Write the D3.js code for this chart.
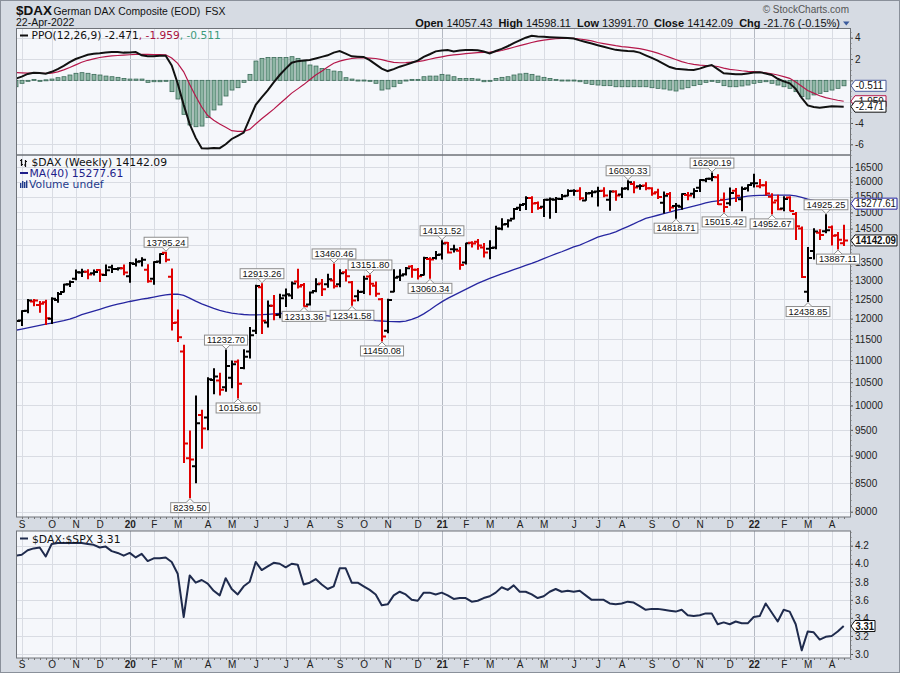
<!DOCTYPE html>
<html><head><meta charset="utf-8">
<script src="https://cdn.jsdelivr.net/npm/d3@7"></script>
<style>
html,body{margin:0;padding:0;background:#d6dbe3;}
svg{display:block;}
</style></head><body>
<svg id="c" width="900" height="673"></svg>
<script>
// Weekly bars: [week (Monday), open, high, low, close]
const weeks = [
["2019-08-26",11700,11950,11650,11939],["2019-09-02",11950,12200,11830,12191],["2019-09-09",12200,12490,12150,12469],
["2019-09-16",12440,12495,12330,12468],["2019-09-23",12350,12440,12160,12381],["2019-09-30",12420,12470,11850,12012],
["2019-10-07",12000,12540,11880,12511],["2019-10-14",12480,12680,12420,12634],["2019-10-21",12690,12900,12690,12894],
["2019-10-28",12900,12990,12840,12961],["2019-11-04",13050,13290,13020,13228],["2019-11-11",13220,13310,13110,13242],
["2019-11-18",13240,13300,13050,13164],["2019-11-25",13200,13290,13150,13236],["2019-12-02",13290,13300,12970,13166],
["2019-12-09",13150,13430,13140,13283],["2019-12-16",13370,13425,13220,13319],["2019-12-23",13320,13350,13290,13337],
["2019-12-30",13340,13430,13160,13219],["2020-01-06",13120,13500,12950,13483],["2020-01-13",13460,13600,13400,13526],
["2020-01-20",13540,13640,13400,13577],["2020-01-27",13300,13440,12950,12982],["2020-02-03",13050,13520,12900,13514],
["2020-02-10",13530,13750,13480,13745],["2020-02-17",13780,13795.24,13520,13579],["2020-02-24",13100,13320,11720,11890],
["2020-03-02",11900,12220,11440,11542],["2020-03-09",11200,11350,8870,9232],["2020-03-16",8950,9480,8239.5,8929],
["2020-03-23",8800,10200,8500,9633],["2020-03-30",9800,9900,9140,9526],["2020-04-06",9750,10600,9500,10565],
["2020-04-13",10550,10800,10250,10626],["2020-04-20",10540,10700,10220,10336],["2020-04-27",10390,11232.7,10300,10862],
["2020-05-04",10600,10980,10380,10904],["2020-05-11",10960,11000,10158.6,10465],["2020-05-18",10820,11240,10800,11074],
["2020-05-25",11200,11780,11050,11587],["2020-06-01",11700,12870,11630,12848],["2020-06-08",12820,12913.26,11630,11949],
["2020-06-15",11900,12450,11790,12331],["2020-06-22",12330,12600,11970,12089],["2020-06-29",12100,12630,12020,12528],
["2020-07-06",12600,12770,12310,12633],["2020-07-13",12600,12960,12520,12920],["2020-07-20",12970,13310,12800,12838],
["2020-07-27",12880,12920,12313.36,12313.36],["2020-08-03",12360,12690,12350,12675],["2020-08-10",12720,13050,12700,12901],
["2020-08-17",12920,13030,12600,12765],["2020-08-24",12900,13170,12820,13033],["2020-08-31",13000,13460.46,12800,12842],
["2020-09-07",12900,13300,12830,13203],["2020-09-14",13230,13300,12990,13116],["2020-09-21",12950,12970,12341.58,12469],
["2020-09-28",12580,12740,12460,12689],["2020-10-05",12700,13120,12650,13051],["2020-10-12",13110,13151.8,12620,12909],
["2020-10-19",12860,12960,12580,12646],["2020-10-26",12500,12520,11450.08,11556],["2020-11-02",11700,12500,11650,12480],
["2020-11-09",12700,13300,12700,13077],["2020-11-16",13100,13300,13000,13137],["2020-11-23",13170,13360,13150,13336],
["2020-11-30",13390,13420,13090,13299],["2020-12-07",13300,13330,13040,13114],["2020-12-14",13150,13650,13150,13631],
["2020-12-21",13600,13640,13060.34,13587],["2020-12-28",13630,13820,13600,13719],["2021-01-04",13730,14131.52,13600,14050],
["2021-01-11",14070,14080,13770,13787],["2021-01-18",13880,14000,13800,13874],["2021-01-25",13840,13930,13310,13433],
["2021-02-01",13500,14060,13460,14057],["2021-02-08",14070,14100,13950,14050],["2021-02-15",14100,14170,13880,13993],
["2021-02-22",13930,14050,13660,13786],["2021-03-01",13900,14130,13610,13921],["2021-03-08",13930,14570,13900,14502],
["2021-03-15",14490,14800,14460,14621],["2021-03-22",14640,14770,14550,14749],["2021-03-29",14800,15120,14790,15107],
["2021-04-05",15150,15260,15060,15234],["2021-04-12",15270,15500,15090,15460],["2021-04-19",15460,15500,15000,15280],
["2021-04-26",15300,15330,15100,15136],["2021-05-03",15180,15410,14870,15400],["2021-05-10",15400,15460,14820,15417],
["2021-05-17",15400,15480,15000,15438],["2021-05-24",15430,15570,15410,15520],["2021-05-31",15530,15730,15530,15693],
["2021-06-07",15700,15730,15550,15693],["2021-06-14",15700,15800,15400,15448],["2021-06-21",15380,15640,15390,15608],
["2021-06-28",15620,15700,15500,15650],["2021-07-05",15670,15810,15200,15688],["2021-07-12",15700,15800,15500,15540],
["2021-07-19",15400,15700,15070,15669],["2021-07-26",15670,15700,15390,15544],["2021-08-02",15570,15800,15480,15761],
["2021-08-09",15780,16030.33,15730,15977],["2021-08-16",15920,16000,15630,15808],["2021-08-23",15850,15900,15750,15852],
["2021-08-30",15870,15960,15730,15781],["2021-09-06",15780,15800,15550,15609],["2021-09-13",15650,15750,15440,15490],
["2021-09-20",15310,15660,14980,15532],["2021-09-27",15590,15640,15040,15156],["2021-10-04",15200,15280,14818.71,15207],
["2021-10-11",15180,15600,15100,15587],["2021-10-18",15560,15640,15400,15543],["2021-10-25",15600,15760,15470,15688],
["2021-11-01",15800,16060,15670,16054],["2021-11-08",16050,16110,16000,16094],["2021-11-15",16100,16290.19,16030,16160],
["2021-11-22",16150,16230,15250,15257],["2021-11-29",15400,15620,15015.42,15170],["2021-12-06",15290,15790,15230,15623],
["2021-12-13",15700,15770,15350,15532],["2021-12-20",15420,15820,15050,15756],["2021-12-27",15780,15900,15690,15885],
["2022-01-03",15950,16250,15820,15948],["2022-01-10",15850,16070,15800,15883],["2022-01-17",15880,16000,15560,15604],
["2022-01-24",15500,15600,14952.67,15318],["2022-01-31",15380,15550,15080,15100],["2022-02-07",15120,15500,15050,15425],
["2022-02-14",15480,15500,15050,15042],["2022-02-21",14950,15000,14170,14567],["2022-02-28",14500,14550,13080,13094],
["2022-03-07",12700,13930,12438.85,13628],["2022-03-14",13830,14490,13600,14413],["2022-03-21",14370,14460,14170,14306],
["2022-03-28",14420,14925.25,14370,14446],["2022-04-04",14540,14580,14010,14284],["2022-04-11",14300,14380,13887.11,14163.85],
["2022-04-18",14057.43,14598.11,13991.70,14142.09]
];
// 40-week moving average
const ma40 = [11710,11740,11770,11800,11830,11860,11890,11920,11950,11990,12040,12100,12146,12192,12238,12284,12330,12370,12405,12440,
12470,12500,12525,12555,12585,12615,12630,12632,12600,12530,12450,12380,12320,12260,12210,12170,12140,12120,12105,12095,
12095,12100,12110,12120,12130,12135,12135,12135,12130,12120,12110,12090,12070,12050,12030,12015,12000,11990,11980,11965,
11950,11940,11930,11925,11922,11935,11980,12040,12120,12220,12330,12430,12520,12600,12680,12760,12840,12920,12990,13060,
13120,13180,13240,13300,13360,13420,13475,13540,13610,13680,13750,13810,13880,13950,14005,14080,14160,14240,14290,14335,
14400,14480,14560,14640,14730,14810,14860,14910,14960,15010,15060,15100,15150,15200,15250,15300,15340,15370,15400,15430,
15460,15490,15520,15535,15545,15550,15555,15556,15556,15556,15530,15480,15420,15380,15340,15300,15270,15272,15277.61];
// PPO(12,26,9)
const ppoLine = [0.15,0.35,0.6,0.7,0.68,0.62,0.8,1.05,1.35,1.7,2.0,2.2,2.4,2.5,2.55,2.62,2.65,2.65,2.6,2.62,
2.65,2.35,2.25,2.25,2.3,2.3,1.4,-0.3,-2.3,-4.1,-5.4,-6.38,-6.4,-6.35,-6.36,-6.0,-5.5,-5.2,-4.9,-3.6,
-2.3,-1.6,-0.95,-0.2,0.5,1.1,1.65,1.8,1.85,1.9,2.05,2.2,2.35,2.6,2.75,2.5,2.25,2.22,2.2,1.9,
1.5,1.1,0.87,1.05,1.28,1.45,1.65,1.85,2.2,2.45,2.72,2.8,2.84,2.7,2.8,2.84,2.84,2.82,2.7,2.53,
2.75,2.95,3.2,3.5,3.75,4.0,4.18,4.12,4.08,4.05,4.02,4.0,3.97,3.92,3.75,3.6,3.45,3.3,3.15,3.0,
2.86,2.8,2.75,2.72,2.6,2.35,2.1,1.85,1.55,1.25,1.08,1.05,1.0,0.98,1.1,1.3,1.44,1.05,0.66,0.62,
0.58,0.57,0.65,0.73,0.75,0.65,0.5,0.15,-0.1,-0.28,-0.8,-1.65,-2.35,-2.5,-2.57,-2.5,-2.42,-2.45,-2.471];
const ppoSignal = [0.72,0.7,0.68,0.67,0.66,0.66,0.68,0.8,0.98,1.2,1.45,1.7,1.88,2.02,2.14,2.22,2.29,2.33,2.37,2.4,
2.43,2.44,2.43,2.42,2.41,2.4,2.1,1.6,0.8,-0.4,-1.5,-2.5,-3.3,-3.75,-4.1,-4.4,-4.72,-4.78,-4.78,-4.6,
-4.1,-3.6,-3.15,-2.7,-2.2,-1.7,-1.2,-0.8,-0.4,0.05,0.5,0.85,1.25,1.6,1.8,1.95,2.05,2.1,2.1,2.08,
2.05,1.95,1.8,1.68,1.65,1.66,1.7,1.75,1.85,1.98,2.1,2.2,2.31,2.38,2.44,2.5,2.55,2.6,2.63,2.65,
2.7,2.8,2.95,3.1,3.25,3.4,3.55,3.68,3.78,3.85,3.9,3.93,3.94,3.94,3.88,3.8,3.7,3.55,3.45,3.35,
3.25,3.17,3.12,3.05,2.97,2.85,2.72,2.55,2.35,2.15,1.95,1.75,1.6,1.5,1.42,1.39,1.37,1.3,1.15,1.03,
0.97,0.9,0.85,0.82,0.78,0.7,0.62,0.5,0.35,0.19,-0.15,-0.55,-0.95,-1.2,-1.45,-1.62,-1.75,-1.87,-1.959];
const ppoHist = [-0.6,-0.28,-0.06,0.09,0.0,0.05,0.12,0.25,0.34,0.5,0.66,0.72,0.66,0.56,0.5,0.4,0.34,0.28,0.18,0.12,
0.12,0.12,-0.19,-0.13,-0.13,-0.06,-1.06,-1.75,-3.19,-4.19,-4.35,-4.29,-3.5,-2.78,-2.31,-1.47,-0.91,-0.69,-0.19,0.56,
1.81,2.06,2.15,2.15,2.15,2.15,2.22,2.06,1.81,1.44,1.34,1.12,1.03,0.87,0.81,0.25,0.12,0.03,0.03,-0.06,
-0.28,-0.91,-0.81,-0.6,-0.28,0.03,0.09,0.09,0.34,0.4,0.4,0.56,0.5,0.34,0.18,0.18,0.18,0.12,-0.13,-0.06,
0.18,0.28,0.34,0.5,0.6,0.66,0.56,0.4,0.28,0.18,0.09,0.03,0.03,0.03,-0.13,-0.28,-0.38,-0.44,-0.5,-0.5,
-0.6,-0.6,-0.6,-0.6,-0.6,-0.6,-0.69,-0.75,-0.81,-0.91,-1.0,-0.81,-0.69,-0.5,-0.38,-0.19,-0.06,-0.19,-0.5,-0.6,
-0.6,-0.53,-0.44,-0.28,-0.19,-0.13,-0.28,-0.44,-0.6,-0.75,-1.06,-1.53,-1.75,-1.37,-1.22,-1.06,-0.91,-0.75,-0.511];
// $DAX:$SPX ratio
const ratio = [4.09,4.10,4.15,4.17,4.18,4.08,4.22,4.23,4.23,4.23,4.23,4.23,4.22,4.21,4.18,4.19,4.14,4.12,4.09,4.12,
4.07,4.11,4.03,4.06,4.06,4.07,4.02,3.89,3.41,3.87,3.79,3.82,3.78,3.70,3.65,3.84,3.72,3.66,3.75,3.80,
4.02,3.93,3.97,4.01,4.0,3.96,4.0,3.99,3.77,3.79,3.83,3.77,3.72,3.75,3.95,3.95,3.79,3.79,3.75,3.71,
3.66,3.54,3.55,3.65,3.69,3.66,3.60,3.59,3.68,3.68,3.66,3.68,3.65,3.61,3.62,3.62,3.58,3.59,3.62,3.64,
3.68,3.74,3.71,3.76,3.69,3.69,3.66,3.62,3.64,3.69,3.72,3.69,3.70,3.69,3.70,3.65,3.60,3.60,3.60,3.56,
3.55,3.56,3.58,3.57,3.53,3.49,3.50,3.50,3.49,3.48,3.47,3.49,3.43,3.42,3.43,3.45,3.45,3.33,3.35,3.33,
3.36,3.34,3.34,3.41,3.42,3.56,3.46,3.36,3.49,3.47,3.33,3.04,3.25,3.24,3.16,3.19,3.20,3.25,3.31];
// Tick labels
const priceTicks = [8000,8500,9000,9500,10000,10500,11000,11500,12000,12500,13000,13500,14000,14500,15000,15500,16000,16500];
const ppoTicks = [4,2,0,-2,-4,-6];
const ratioTicks = [4.2,4.0,3.8,3.6,3.4,3.2,3.0];
const monthLetters = ["J","F","M","A","M","J","J","A","S","O","N","D"];
// Price callouts: [week, value, H/L]
const callouts = [
["2020-02-17",13795.24,"H"],["2020-03-16",8239.50,"L"],["2020-04-27",11232.70,"H"],["2020-05-11",10158.60,"L"],
["2020-06-08",12913.26,"H"],["2020-07-27",12313.36,"L"],["2020-08-31",13460.46,"H"],["2020-09-21",12341.58,"L"],
["2020-10-12",13151.80,"H"],["2020-10-26",11450.08,"L"],["2020-12-21",13060.34,"L"],["2021-01-04",14131.52,"H"],
["2021-08-09",16030.33,"H"],["2021-10-04",14818.71,"L"],["2021-11-15",16290.19,"H"],["2021-11-29",15015.42,"L"],
["2022-01-24",14952.67,"L"],["2022-03-07",12438.85,"L"],["2022-03-28",14925.25,"H"],["2022-04-11",13887.11,"L"]];

const svg = d3.select("#c");
const W=900,H=673,L=17,R=850;
const P1={t:28.5,b:155}, P2={t:155,b:517}, P3={t:531,b:658};
const parse = d3.utcParse("%Y-%m-%d");
const data = weeks.map((d,i)=>({date:parse(d[0]),o:d[1],h:d[2],l:d[3],c:d[4],ma:ma40[i],ppo:ppoLine[i],sig:ppoSignal[i],hist:ppoHist[i],ratio:ratio[i]}));
const x = d3.scaleUtc().domain([parse("2019-09-02"),parse("2022-04-04")]).range([21.7,831.7]);
const yP = d3.scaleLog().domain([8000,16500]).range([511.7,167]);
const yO = d3.scaleLinear().domain([-6,4]).range([144.3,37.7]);
const yR = d3.scaleLinear().domain([3.0,4.2]).range([654,545.7]);
const SANS = "DejaVu Sans, Verdana, sans-serif";
const ARIAL = "Liberation Sans, Arial, sans-serif";

// positions of the right-hand value boxes (used to keep covered axis labels hidden)
const boxY = {
  ppo:[yO(ppoSignal[ppoSignal.length-1]),yO(ppoLine[ppoLine.length-1]),yO(ppoHist[ppoHist.length-1])],
  price:[yP(ma40[ma40.length-1]),yP(weeks[weeks.length-1][4])],
  ratio:[yR(ratio[ratio.length-1])]
};

// background
svg.append("rect").attr("x",0.5).attr("y",0.5).attr("width",W-1).attr("height",H-1).attr("fill","#d6dbe3").attr("stroke","#8a909a");

const defs = svg.append("defs");
[["c1",P1],["c2",P2],["c3",P3]].forEach(([id,p])=>{
  defs.append("clipPath").attr("id",id).append("rect").attr("x",L).attr("y",p.t).attr("width",R-L).attr("height",p.b-p.t);
});
[P1,P2,P3].forEach(p=>svg.append("rect").attr("x",L).attr("y",p.t).attr("width",R-L).attr("height",p.b-p.t).attr("fill","#f5f7fb"));

// month ticks
const monthStarts = data.filter((d,i)=> i>0 && d.date.getUTCMonth()!==data[i-1].date.getUTCMonth());
function vgrid(p){
  const g = svg.append("g").attr("clip-path",`url(#${p===P1?"c1":p===P2?"c2":"c3"})`);
  g.selectAll("line").data(monthStarts).join("line")
    .attr("x1",d=>Math.round(x(d.date))+0.5).attr("x2",d=>Math.round(x(d.date))+0.5)
    .attr("y1",p.t).attr("y2",p.b)
    .attr("stroke",d=>d.date.getUTCMonth()===0?"#b4b9c2":"#d9dce3").attr("stroke-width",1);
}
function hgrid(p,scale,ticks){
  svg.append("g").selectAll("line").data(ticks).join("line")
    .attr("x1",L).attr("x2",R).attr("y1",d=>Math.round(scale(d))+0.5).attr("y2",d=>Math.round(scale(d))+0.5)
    .attr("stroke","#d9dce3");
}
[P1,P2,P3].forEach(vgrid);
hgrid(P1,yO,ppoTicks); hgrid(P2,yP,priceTicks); hgrid(P3,yR,ratioTicks);

// ---- PPO panel
const gP = svg.append("g").attr("clip-path","url(#c1)");
gP.selectAll("rect.h").data(data).join("rect").attr("class","h")
  .attr("x",d=>Math.round(x(d.date))-2).attr("width",4)
  .attr("y",d=>Math.min(yO(0),yO(d.hist))).attr("height",d=>Math.max(1,Math.abs(yO(d.hist)-yO(0))))
  .attr("fill","#8db6a4").attr("stroke","#3a6a58").attr("stroke-width",0.8);
gP.append("path").datum(data).attr("fill","none").attr("stroke","#b5174a").attr("stroke-width",1.2)
  .attr("d",d3.line().x(d=>x(d.date)).y(d=>yO(d.sig)));
gP.append("path").datum(data).attr("fill","none").attr("stroke","#111").attr("stroke-width",2)
  .attr("d",d3.line().x(d=>x(d.date)).y(d=>yO(d.ppo)));

// ---- Price panel
const gM = svg.append("g").attr("clip-path","url(#c2)");
gM.append("path").datum(data).attr("fill","none").attr("stroke","#2626a0").attr("stroke-width",1.3)
  .attr("d",d3.line().x(d=>x(d.date)).y(d=>yP(d.ma)));
gM.selectAll("path.bar").data(data).join("path").attr("class","bar")
  .attr("d",d=>{const cx=Math.round(x(d.date));return `M${cx},${yP(d.h)-0.5}V${yP(d.l)+0.5}M${cx-4},${yP(d.o)}H${cx}M${cx},${yP(d.c)}H${cx+4}`;})
  .attr("fill","none").attr("stroke-width",2)
  .attr("stroke",(d,i)=> i>0 && d.c<data[i-1].c ? "#e00000" : "#000");

// ---- Ratio panel
const gR = svg.append("g").attr("clip-path","url(#c3)");
gR.append("path").datum(data).attr("fill","none").attr("stroke","#1f2b4d").attr("stroke-width",2)
  .attr("stroke-linejoin","round").attr("d",d3.line().x(d=>x(d.date)).y(d=>yR(d.ratio)));

// ---- panel borders
[P1,P2,P3].forEach(p=>svg.append("rect").attr("x",L-0.5).attr("y",p.t).attr("width",R-L+1).attr("height",p.b-p.t)
  .attr("fill","none").attr("stroke","#6f7379"));

// ---- right axes
function rightAxis(scale,ticks,fmt,minor,covers){
  const g = svg.append("g").attr("transform",`translate(${R},0)`)
    .call(d3.axisRight(scale).tickValues(ticks).tickFormat(fmt).tickSize(3).tickPadding(2));
  g.select(".domain").remove();
  g.selectAll("text").attr("font-family",ARIAL).attr("font-size",10).attr("fill","#222")
    .attr("display",d=>covers.some(y=>Math.abs(scale(d)-y)<6)?"none":null);
  g.selectAll("line").attr("stroke","#555");
  svg.append("g").selectAll("line").data(minor).join("line")
    .attr("x1",R).attr("x2",R+1.5).attr("y1",d=>Math.round(scale(d))+0.5).attr("y2",d=>Math.round(scale(d))+0.5).attr("stroke","#777");
}
rightAxis(yO,ppoTicks,d=>d3.format("d")(d).replace("\u2212","-"),d3.range(-7,4.9,0.5),boxY.ppo);
rightAxis(yP,priceTicks,d3.format("d"),d3.range(8000,16600,100),boxY.price);
rightAxis(yR,ratioTicks,d=>d.toFixed(1),d3.range(2.95,4.36,0.05),[]);

// ---- bottom axes (months)
function monthAxis(y0,pad){
  const g = svg.append("g").attr("transform",`translate(0,${y0})`)
    .call(d3.axisBottom(x).tickValues(monthStarts.map(d=>d.date))
      .tickFormat(d=>d.getUTCMonth()===0 ? d3.utcFormat("%y")(d) : monthLetters[d.getUTCMonth()])
      .tickSize(0).tickPadding(pad));
  g.select(".domain").remove();
  g.selectAll("text").attr("font-family",ARIAL).attr("font-size",10).attr("fill","#222")
    .attr("font-weight",d=>d.getUTCMonth()===0?"bold":"normal");
  svg.append("g").selectAll("line").data(data).join("line")
    .attr("x1",d=>Math.round(x(d.date))+0.5).attr("x2",d=>Math.round(x(d.date))+0.5)
    .attr("y1",y0).attr("y2",y0+2).attr("stroke","#777")
    .attr("display",d=>x(d.date)<L||x(d.date)>R?"none":null);
}
monthAxis(P2.b,4);
monthAxis(P3.b,2.6);

// ---- callouts (drawn over the axis labels, as in the original)
const gC = svg.append("g");
callouts.forEach(([dt,v,t])=>{
  const cx = Math.round(x(parse(dt))), cy = yP(v);
  const txt = gC.append("text").text(v.toFixed(2)).attr("font-family",ARIAL).attr("font-size",9.3).attr("fill","#111").attr("text-anchor","middle");
  const w = txt.node().getComputedTextLength()+5, h=10;
  const bt = t==="H" ? cy-5-h : cy+5;
  gC.insert("rect","text").attr("x",cx-w/2).attr("y",bt).attr("width",w).attr("height",h).attr("fill","#fff").attr("stroke","#8c8c8c");
  const edge = t==="H" ? bt+h : bt;
  const tip = t==="H" ? cy-1 : cy+1;
  gC.insert("path","text").attr("d",`M${cx-4},${edge}L${cx},${tip}L${cx+4},${edge}`).attr("fill","#fff").attr("stroke","#8c8c8c");
  txt.attr("x",cx).attr("y",bt+8.3);
});

// ---- value boxes on right
function valueBox(y,text,color,bold,right){
  const g = svg.append("g");
  g.append("path").attr("d",`M${R+1},${y}L${R+5},${y-5.5}H${R+right}V${y+5.5}H${R+5}Z`).attr("fill","#fff").attr("stroke",color);
  const t = g.append("text").attr("x",R+5.5).attr("y",y+3.6).text(text).attr("font-family",ARIAL).attr("font-size",10)
    .attr("font-weight",bold?"bold":"normal").attr("fill","#111");
  const maxW = right-6.5;
  if (t.node().getComputedTextLength()>maxW) t.attr("textLength",maxW).attr("lengthAdjust","spacingAndGlyphs");
}
valueBox(boxY.ppo[0],ppoSignal[ppoSignal.length-1].toFixed(3),"#b5174a",false,36);
valueBox(boxY.ppo[1],ppoLine[ppoLine.length-1].toFixed(3),"#111",false,36);
valueBox(boxY.ppo[2],ppoHist[ppoHist.length-1].toFixed(3),"#4a5c9c",false,36);
valueBox(boxY.price[0],ma40[ma40.length-1].toFixed(2),"#2626a0",false,47);
valueBox(boxY.price[1],weeks[weeks.length-1][4].toFixed(2),"#111",true,47);
valueBox(boxY.ratio[0],ratio[ratio.length-1].toFixed(2),"#111",true,25);

// ---- legends
// PPO
svg.append("line").attr("x1",20).attr("x2",28).attr("y1",35.5).attr("y2",35.5).attr("stroke","#111").attr("stroke-width",2);
const tp = svg.append("text").attr("x",31.5).attr("y",39).attr("font-family",SANS).attr("font-size",10.6).attr("fill","#111");
tp.append("tspan").text("PPO(12,26,9) "+ppoLine[ppoLine.length-1].toFixed(3));
tp.append("tspan").attr("fill","#a8123f").text(", "+ppoSignal[ppoSignal.length-1].toFixed(3));
tp.append("tspan").attr("fill","#3d9a7c").text(", "+ppoHist[ppoHist.length-1].toFixed(3));
// price
const ig = svg.append("g").attr("stroke","#111").attr("stroke-width",1.2).attr("fill","none");
ig.append("path").attr("d","M21.5,159V166M20,160.5H21.5M21.5,164.5H23M25.5,160V167M24,165H25.5M25.5,161.5H27");
svg.append("text").attr("x",31.5).attr("y",166).attr("font-family",SANS).attr("font-size",10.8).attr("fill","#111")
  .text("$DAX (Weekly) "+weeks[weeks.length-1][4].toFixed(2));
svg.append("line").attr("x1",20).attr("x2",28).attr("y1",173).attr("y2",173).attr("stroke","#1e1e8a").attr("stroke-width",2);
svg.append("text").attr("x",29.5).attr("y",177).attr("font-family",SANS).attr("font-size",10.8).attr("fill","#1e1e8a")
  .text("MA(40) "+ma40[ma40.length-1].toFixed(2));
const vg = svg.append("g").attr("fill","#1e3a8a");
[[20,183,1.4,5],[22,181,1.4,7],[24,182,1.4,6],[26,180.5,1.4,7.5]].forEach(b=>vg.append("rect").attr("x",b[0]).attr("y",b[1]).attr("width",b[2]).attr("height",b[3]));
svg.append("text").attr("x",29).attr("y",187.5).attr("font-family",SANS).attr("font-size",10.8).attr("fill","#1e3a8a").text("Volume undef");
// ratio
svg.append("line").attr("x1",20).attr("x2",28).attr("y1",538.5).attr("y2",538.5).attr("stroke","#1f2b4d").attr("stroke-width",2);
svg.append("text").attr("x",32).attr("y",542.5).attr("font-family",SANS).attr("font-size",10.8).attr("fill","#111")
  .text("$DAX:$SPX "+ratio[ratio.length-1].toFixed(2));

// ---- header
svg.append("text").attr("x",16).attr("y",15).attr("font-family",ARIAL).attr("font-size",13.5).attr("font-weight","bold").attr("fill","#111").text("$DAX");
const tt = svg.append("text").attr("x",53.5).attr("y",15).attr("font-family",ARIAL).attr("font-size",10.4).attr("fill","#111").text("German DAX Composite (EOD)");
const tEnd = 53.5 + tt.node().getComputedTextLength();
svg.append("text").attr("x",tEnd+5).attr("y",15).attr("font-family",ARIAL).attr("font-size",10.4).attr("fill","#111").text("FSX");
svg.append("text").attr("x",16).attr("y",26).attr("font-family",ARIAL).attr("font-size",10.5).attr("fill","#111").text("22-Apr-2022");
svg.append("text").attr("x",849).attr("y",12.5).attr("text-anchor","end").attr("font-family",ARIAL).attr("font-size",10).attr("fill","#555").text("\u00A9 StockCharts.com");
const last = weeks[weeks.length-1], prevC = weeks[weeks.length-2][4], chg = last[4]-prevC;
const info = [["Open",last[1]],["High",last[2]],["Low",last[3]],["Close",last[4]]];
const ti = svg.append("text").attr("x",840).attr("y",26.5).attr("text-anchor","end").attr("font-family",ARIAL).attr("font-size",11).attr("fill","#111").attr("xml:space","preserve").style("white-space","pre");
info.forEach(([k,v],i)=>{ ti.append("tspan").attr("font-weight","bold").text((i?"  ":"")+k); ti.append("tspan").text(" "+v.toFixed(2)); });
ti.append("tspan").attr("font-weight","bold").text("  Chg");
ti.append("tspan").text(" "+chg.toFixed(2)+" ("+(chg/prevC*100).toFixed(2)+"%)");
svg.append("path").attr("d","M843,21.5H849.5L846.25,25.5Z").attr("fill","#3a5a9c");
</script>
</body></html>
